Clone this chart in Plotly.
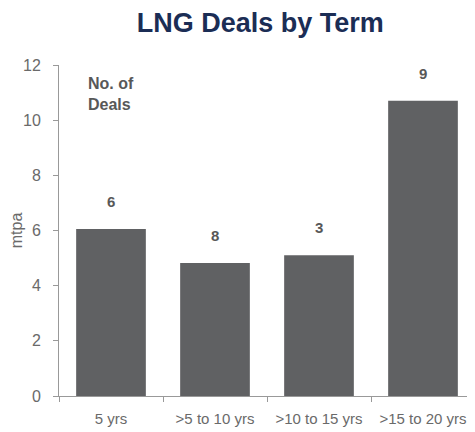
import plotly.graph_objects as go

BAR_COLOR = '#606163'
TEXT_GREY = '#585858'
TICK_GREY = '#6a6a6a'
TITLE_NAVY = '#1b2d55'

terms = ['5 yrs', '>5 to 10 yrs', '>10 to 15 yrs', '>15 to 20 yrs']
volume_mtpa = [6.05, 4.82, 5.1, 10.7]
deal_counts = [6, 8, 3, 9]
y_ticks = [0, 2, 4, 6, 8, 10, 12]

bars = go.Bar(
    x=terms,
    y=volume_mtpa,
    marker=dict(color=BAR_COLOR, line=dict(width=0)),
    width=0.67,
    name='mtpa'
)

# the page body keeps its default 8px margin, so the figure is 8px smaller
layout = go.Layout(
    width=467,
    height=424,
    margin=dict(l=51, r=0, t=57, b=36),
    paper_bgcolor='white',
    plot_bgcolor='white',
    showlegend=False,
    font=dict(family='Liberation Sans, Arial, sans-serif', color=TEXT_GREY, size=13),
    title=dict(
        text='<b>LNG Deals by Term</b>',
        x=0.54, xanchor='center', y=0.965, yanchor='middle',
        font=dict(size=27, color=TITLE_NAVY)
    ),
    xaxis=dict(
        type='category',
        range=[-0.5, 3.5],
        tickson='boundaries',
        ticks='outside', ticklen=5, tickcolor='#999999',
        showline=True, linecolor='#999999', linewidth=1,
        showgrid=False,
        tickangle=0,
        ticklabelstandoff=9,
        tickfont=dict(size=15, color=TICK_GREY),
    ),
    yaxis=dict(
        range=[0, 12],
        tickvals=y_ticks,
        ticks='outside', ticklen=5, tickcolor='#999999',
        showline=True, linecolor='#999999', linewidth=1,
        showgrid=False, zeroline=False,
        ticklabelstandoff=9,
        tickfont=dict(size=16, color=TICK_GREY),
        title=dict(text='mtpa', font=dict(size=16, color=TICK_GREY), standoff=5),
    ),
)

fig = go.Figure(data=[bars], layout=layout)

for term, vol, n in zip(terms, volume_mtpa, deal_counts):
    fig.add_annotation(
        x=term, y=vol, text=f'<b>{n}</b>',
        showarrow=False, yanchor='bottom', yshift=17,
        font=dict(size=15, color=TEXT_GREY)
    )

fig.add_annotation(
    xref='paper', yref='paper', x=0.065, y=0.975,
    text='<b>No. of<br>Deals</b>', align='left',
    showarrow=False, xanchor='left', yanchor='top',
    font=dict(size=16, color=TEXT_GREY)
)

fig.write_html('out.html')
